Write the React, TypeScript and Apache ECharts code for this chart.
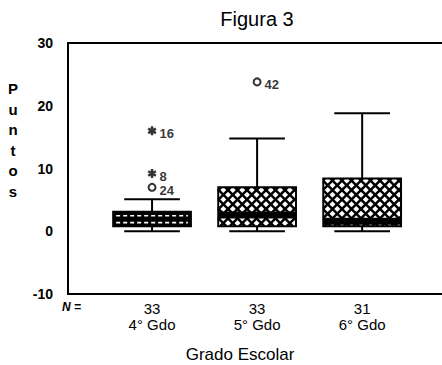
import React, { useEffect, useRef } from "react";
import * as echarts from "echarts";

const categories = ["4° Gdo", "5° Gdo", "6° Gdo"];
const nCounts = [33, 33, 31];
const whiskerLow = [0, 0, 0];
const q1 = [0.8, 0.8, 0.8];
const median = [1.9, 2.6, 1.6];
const q3 = [3.1, 7.0, 8.4];
const whiskerHigh = [5.1, 14.8, 18.8];

const outlierGroup = [1, 1, 1, 2];
const outlierValue = [16.0, 9.2, 7.0, 23.8];
const outlierCase = ["16", "8", "24", "42"];
const outlierExtreme = [true, true, false, false];

const yMin = -10;
const yMax = 30;
const yStep = 10;
const xMin = 0.2;
const xMax = 3.76;

const FONT = '"Liberation Sans", Arial, sans-serif';

function asteriskPath(): string {
  const parts: string[] = [];
  [90, 30, 150].forEach((deg) => {
    const a = (deg * Math.PI) / 180;
    const c = Math.cos(a);
    const s = Math.sin(a);
    const pts = [
      [5, -1.4],
      [5, 1.4],
      [-5, 1.4],
      [-5, -1.4],
    ].map(([px, py]) => [px * c - py * s, px * s + py * c]);
    parts.push(
      "M" + pts.map((p) => p[0].toFixed(2) + "," + p[1].toFixed(2)).join("L") + "Z"
    );
  });
  return "path://" + parts.join(" ");
}

export default function App() {
  const ref = useRef<HTMLDivElement>(null);

  useEffect(() => {
    document.body.style.margin = "0";
    if (!ref.current) return;
    const chart = echarts.init(ref.current, undefined, { renderer: "svg" });

    const boxData = categories.map((_, i) => [
      i + 1,
      whiskerLow[i],
      q1[i],
      median[i],
      q3[i],
      whiskerHigh[i],
    ]);

    const makeOutliers = (extreme: boolean) =>
      outlierGroup
        .map((g, i) => ({ g, i }))
        .filter(({ i }) => outlierExtreme[i] === extreme)
        .map(({ g, i }) => [g, outlierValue[i], outlierCase[i]]);

    const renderBox = (params: any, api: any) => {
      const x = api.value(0);
      const cx = api.coord([x, api.value(1)])[0];
      const pMin = api.coord([x, api.value(1)])[1];
      const pQ1 = api.coord([x, api.value(2)])[1];
      const pMed = api.coord([x, api.value(3)])[1];
      const pQ3 = api.coord([x, api.value(4)])[1];
      const pMax = api.coord([x, api.value(5)])[1];
      const half = api.size([0.74, 0])[0] / 2;
      const cap = api.size([0.53, 0])[0] / 2;
      const x0 = cx - half;
      const x1 = cx + half;
      const y0 = pQ3;
      const y1 = pQ1;
      const children: any[] = [];
      const lineStyle = { stroke: "#000", lineWidth: 2 };

      children.push({ type: "line", shape: { x1: cx, y1: y0, x2: cx, y2: pMax }, style: lineStyle });
      children.push({ type: "line", shape: { x1: cx - cap, y1: pMax, x2: cx + cap, y2: pMax }, style: lineStyle });
      children.push({ type: "line", shape: { x1: cx, y1: y1, x2: cx, y2: pMin }, style: lineStyle });
      children.push({ type: "line", shape: { x1: cx - cap, y1: pMin, x2: cx + cap, y2: pMin }, style: lineStyle });

      if (y1 - y0 < 20) {
        children.push({
          type: "rect",
          shape: { x: x0, y: y0, width: x1 - x0, height: y1 - y0 },
          style: { fill: "#000" },
        });
        [0.27, 0.75].forEach((f) => {
          const yy = y0 + (y1 - y0) * f;
          children.push({
            type: "line",
            shape: { x1: x0 + 3, y1: yy, x2: x1 - 3, y2: yy },
            style: { stroke: "#fff", lineWidth: 1.6, lineDash: [4, 3] },
          });
        });
      } else {
        children.push({
          type: "rect",
          shape: { x: x0, y: y0, width: x1 - x0, height: y1 - y0 },
          style: { fill: "#fff" },
        });
        const s = 9.5;
        const hatch = { stroke: "#000", lineWidth: 2.5 };
        const kA0 = Math.floor((x0 - y1) / s);
        const kA1 = Math.ceil((x1 - y0) / s);
        for (let k = kA0; k <= kA1; k++) {
          const c = k * s;
          const lo = Math.max(x0, y0 + c);
          const hi = Math.min(x1, y1 + c);
          if (lo < hi) children.push({ type: "line", shape: { x1: lo, y1: lo - c, x2: hi, y2: hi - c }, style: hatch });
        }
        const kB0 = Math.floor((x0 + y0) / s);
        const kB1 = Math.ceil((x1 + y1) / s);
        for (let k = kB0; k <= kB1; k++) {
          const c = k * s;
          const lo = Math.max(x0, c - y1);
          const hi = Math.min(x1, c - y0);
          if (lo < hi) children.push({ type: "line", shape: { x1: lo, y1: c - lo, x2: hi, y2: c - hi }, style: hatch });
        }
        const bTop = Math.max(y0, pMed - 3.5);
        const bBot = Math.min(y1, pMed + 3.5);
        children.push({
          type: "rect",
          shape: { x: x0, y: bTop, width: x1 - x0, height: bBot - bTop },
          style: { fill: "#000" },
        });
      }
      children.push({
        type: "rect",
        shape: { x: x0, y: y0, width: x1 - x0, height: y1 - y0 },
        style: { fill: "rgba(0,0,0,0)", stroke: "#000", lineWidth: 2 },
      });
      return { type: "group", children };
    };

    const outlierLabel = {
      show: true,
      position: "right",
      distance: 3,
      offset: [0, 3],
      formatter: (p: any) => p.value[2],
      color: "#000",
      fontFamily: FONT,
      fontWeight: "bold",
      fontSize: 13,
    };

    chart.setOption({
      animation: false,
      backgroundColor: "#fff",
      grid: {
        left: 68,
        top: 43,
        bottom: 71,
        right: 0,
        show: false,
      },
      xAxis: [
        {
          type: "value",
          min: xMin,
          max: xMax,
          splitLine: { show: false },
          axisTick: { show: false },
          axisLine: { show: true, onZero: false, lineStyle: { color: "#000", width: 2 } },
          axisLabel: {
            customValues: categories.map((_, i) => i + 1),
            margin: 6,
            formatter: (v: number) => {
              const i = Math.round(v) - 1;
              if (i < 0 || i >= categories.length) return "";
              return "{n|" + nCounts[i] + "}\n{c|" + categories[i] + "}";
            },
            rich: {
              n: { fontFamily: FONT, fontSize: 15, color: "#000", lineHeight: 16 },
              c: { fontFamily: FONT, fontSize: 15, color: "#000", lineHeight: 16 },
            },
          },
        },
        {
          type: "value",
          position: "top",
          min: xMin,
          max: xMax,
          splitLine: { show: false },
          axisTick: { show: false },
          axisLabel: { show: false },
          axisLine: { show: true, onZero: false, lineStyle: { color: "#000", width: 2 } },
        },
      ],
      yAxis: {
        type: "value",
        min: yMin,
        max: yMax,
        interval: yStep,
        splitLine: { show: false },
        axisTick: { show: false },
        axisLine: { show: true, lineStyle: { color: "#000", width: 2 } },
        axisLabel: {
          margin: 15,
          color: "#000",
          fontFamily: FONT,
          fontWeight: "bold",
          fontSize: 14,
        },
      },
      series: [
        {
          type: "custom",
          renderItem: renderBox,
          data: boxData,
          clip: false,
          z: 2,
        },
        {
          type: "scatter",
          data: makeOutliers(true),
          symbol: asteriskPath(),
          symbolSize: 9,
          itemStyle: { color: "#000" },
          label: outlierLabel,
          z: 3,
        },
        {
          type: "scatter",
          data: makeOutliers(false),
          symbol: "emptyCircle",
          symbolSize: 7,
          itemStyle: { color: "#000", borderColor: "#000", borderWidth: 2 },
          label: outlierLabel,
          z: 3,
        },
      ],
      graphic: [
        {
          type: "text",
          x: 257,
          y: 19,
          style: {
            text: "Figura 3",
            fontFamily: FONT,
            fontSize: 20,
            fill: "#000",
            textAlign: "center",
            textVerticalAlign: "middle",
          },
        },
        {
          type: "text",
          x: 13,
          y: 140,
          style: {
            text: "P\nu\nn\nt\no\ns",
            fontFamily: FONT,
            fontSize: 15,
            fontWeight: "bold",
            lineHeight: 20.5,
            fill: "#000",
            textAlign: "center",
            textVerticalAlign: "middle",
          },
        },
        {
          type: "text",
          x: 62,
          y: 307,
          style: {
            text: "N =",
            fontFamily: FONT,
            fontSize: 12,
            fontWeight: "bold",
            fontStyle: "italic",
            fill: "#000",
            textAlign: "left",
            textVerticalAlign: "middle",
          },
        },
        {
          type: "text",
          x: 240,
          y: 354,
          style: {
            text: "Grado Escolar",
            fontFamily: FONT,
            fontSize: 17,
            fill: "#000",
            textAlign: "center",
            textVerticalAlign: "middle",
          },
        },
      ],
    });

    return () => {
      chart.dispose();
    };
  }, []);

  return <div ref={ref} style={{ width: 442, height: 365 }} />;
}
